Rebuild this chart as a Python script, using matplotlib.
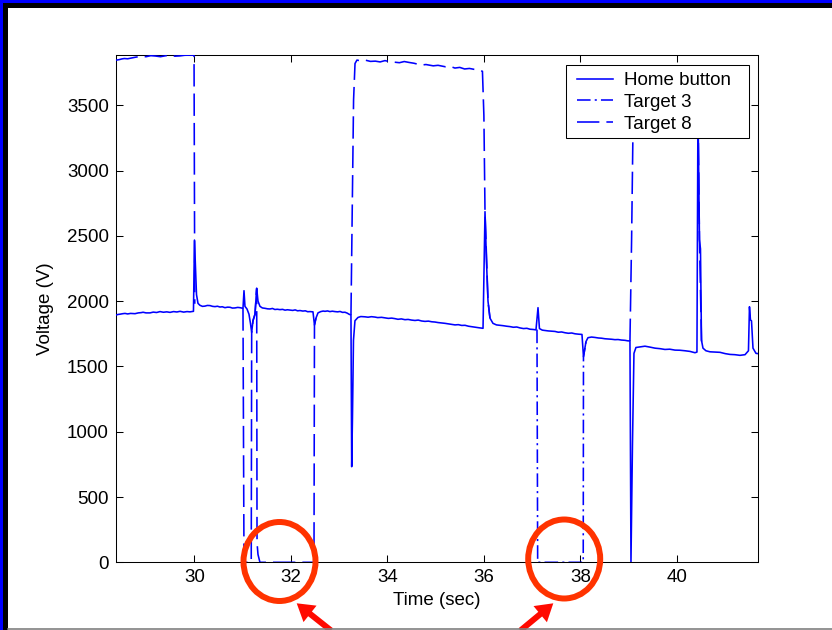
import numpy as np
import matplotlib
matplotlib.use("Agg")
import matplotlib.pyplot as plt
from matplotlib.patches import Rectangle, Ellipse, FancyArrow

plt.rcParams['font.family'] = ['Liberation Sans', 'DejaVu Sans']

NaN = float('nan')

# ---------------- data ----------------
home_time = [28.372, 28.42, 28.461, 28.52, 28.565, 28.62, 28.68, 28.772, 28.84, 28.90,
             28.939, 29.00, 29.083, 29.15, 29.22, 29.290, 29.36, 29.43, 29.498, 29.57,
             29.64, 29.705, 29.78, 29.85, 29.911, 29.983,
             30.004, 30.025, 30.046, 30.077, 30.118, 30.17, 30.222, 30.27, 30.325, 30.38,
             30.429, 30.48, 30.532, 30.58, 30.636, 30.69, 30.740, 30.79, 30.843, 30.90,
             30.947, 31.009,
             31.030, 31.050, 31.092, 31.133, 31.164, 31.189, 31.216, 31.258, 31.293, 31.320,
             31.361, 31.41, 31.465, 31.52, 31.568, 31.62, 31.67, 31.72, 31.775, 31.83,
             31.88, 31.93, 31.983, 32.04, 32.09, 32.14, 32.190, 32.25, 32.30, 32.35,
             32.397, 32.459,
             32.490, 32.521, 32.563, 32.62, 32.67, 32.708, 32.76, 32.81, 32.86, 32.915,
             32.97, 33.02, 33.07, 33.122, 33.17, 33.205, 33.246,
             33.261, 33.277, 33.298, 33.329, 33.391, 33.45, 33.536, 33.60, 33.67, 33.744,
             33.80, 33.88, 33.951, 34.02, 34.09, 34.158, 34.22, 34.29, 34.365, 34.43,
             34.50, 34.573, 34.64, 34.71, 34.780, 34.85, 34.92, 34.987, 35.05, 35.12,
             35.194, 35.26, 35.33, 35.402, 35.47, 35.54, 35.609, 35.68, 35.75, 35.816,
             35.90, 35.982,
             36.023, 36.054, 36.085, 36.126, 36.188, 36.26, 36.333, 36.40, 36.47, 36.541,
             36.61, 36.68, 36.748, 36.82, 36.89, 36.955, 37.02, 37.079,
             37.121, 37.151, 37.21, 37.265, 37.33, 37.40, 37.473, 37.54, 37.61, 37.680,
             37.75, 37.82, 37.887, 37.96, 38.032,
             38.063, 38.115, 38.156, 38.23, 38.301, 38.37, 38.44, 38.508, 38.58, 38.65,
             38.715, 38.78, 38.85, 38.922, 38.98, 39.026,
             39.047, 39.078, 39.109, 39.150, 39.24, 39.337, 39.44, 39.544, 39.65, 39.751,
             39.85, 39.959, 40.06, 40.166, 40.27, 40.373, 40.414,
             40.435, 40.466, 40.487, 40.508, 40.539, 40.60, 40.684, 40.79, 40.892, 41.00,
             41.099, 41.20, 41.306, 41.410, 41.481,
             41.502, 41.523, 41.544, 41.575, 41.637, 41.685]
home_volt = [1893, 1898, 1900, 1904, 1906, 1902, 1906, 1904, 1910, 1912,
             1915, 1910, 1910, 1916, 1913, 1920, 1915, 1918, 1914, 1920,
             1917, 1922, 1916, 1920, 1918, 1922,
             2468, 2250, 2050, 1983, 1968, 1960, 1962, 1967, 1966, 1960,
             1958, 1961, 1955, 1957, 1950, 1954, 1953, 1947, 1948, 1952,
             1950, 1945,
             2080, 1960, 1940, 1900, 1830, 1760, 1850, 1900, 2098, 2000,
             1960, 1948, 1945, 1941, 1940, 1944, 1936, 1938, 1935, 1937,
             1931, 1934, 1932, 1929, 1933, 1926, 1928, 1924, 1926, 1919,
             1920, 1918,
             1817, 1870, 1910, 1920, 1924, 1922, 1925, 1920, 1923, 1920,
             1918, 1921, 1914, 1915, 1908, 1900, 1894,
             732, 1100, 1700, 1850, 1875, 1882, 1880, 1877, 1881, 1878,
             1874, 1876, 1872, 1868, 1870, 1866, 1861, 1864, 1858, 1860,
             1855, 1852, 1855, 1848, 1845, 1847, 1842, 1840, 1836, 1833,
             1830, 1826, 1822, 1818, 1820, 1814, 1815, 1808, 1804, 1800,
             1796, 1792,
             2685, 2300, 2000, 1870, 1830, 1818, 1815, 1812, 1808, 1805,
             1800, 1802, 1795, 1790, 1792, 1785, 1783, 1780,
             1950, 1790, 1778, 1775, 1772, 1770, 1768, 1762, 1764, 1758,
             1754, 1756, 1750, 1747, 1745,
             1574, 1690, 1720, 1725, 1722, 1718, 1716, 1712, 1710, 1708,
             1705, 1706, 1702, 1700, 1696, 1695,
             0, 900, 1600, 1645, 1650, 1655, 1648, 1640, 1636, 1630,
             1632, 1625, 1624, 1620, 1615, 1605, 1610,
             3500, 2470, 2400, 1700, 1640, 1620, 1612, 1610, 1608, 1598,
             1592, 1590, 1585, 1590, 1620,
             1957, 1855, 1850, 1640, 1600, 1598]

target3_time = [37.100, 37.114, 38.058, 38.063, 38.115]
target3_volt = [1782, 0, 0, 1574, 1690]

target8_time = [28.372, 28.420, 28.450, 28.500, 28.550, 28.620, 28.700, 28.780, 28.900, 29.000,
                29.100, 29.200, 29.300, 29.400, 29.500, 29.600, 29.700, 29.800, 29.900, 29.995,
                30.010, NaN,
                31.009, 31.030, 31.180, 31.189, 31.216, 31.258, 31.293, 31.300, 31.320, 31.360,
                32.480, 32.490, 32.521, NaN,
                33.246, 33.300, 33.330, 33.370, 33.450, 33.550, 33.650, 33.750, 33.850, 33.950,
                34.050, 34.150, 34.250, 34.350, 34.450, 34.550, 34.700, 34.800, 34.950, 35.050,
                35.200, 35.300, 35.400, 35.500, 35.600, 35.700, 35.800, 35.900, 35.970, 36.000,
                36.023, 36.085, 36.126, NaN,
                39.026, 39.060, 39.090, 39.120, 39.350, 39.750, 40.150, 40.414, 40.435, 40.466,
                40.508, 40.539]
target8_volt = [3845, 3848, 3850, 3855, 3858, 3856, 3862, 3868, 3875, 3872,
                3880, 3877, 3872, 3879, 3882, 3876, 3878, 3883, 3884, 3884,
                1980, NaN,
                1945, 0, 0, 1760, 1850, 1900, 2098, 150, 60, 0,
                0, 1817, 1870, NaN,
                1894, 3540, 3820, 3846, 3840, 3845, 3836, 3838, 3832, 3842,
                3834, 3830, 3826, 3835, 3828, 3822, 3808, 3812, 3802, 3806,
                3795, 3798, 3785, 3790, 3778, 3782, 3775, 3770, 3760, 3420,
                2685, 2000, 1870, NaN,
                1695, 2470, 3350, 3680, 3700, 3690, 3680, 3670, 3500, 2470,
                1700, 1640]

x_ticks = [30, 32, 34, 36, 38, 40]
y_ticks = [0, 500, 1000, 1500, 2000, 2500, 3000, 3500]
x_range = (28.372, 41.685)
y_range = (0, 3885)

# ---------------- figure ----------------
W, H = 832, 630
fig = plt.figure(figsize=(W / 100, H / 100), dpi=100)
fig.patch.set_facecolor('white')

L, R, T, B = 115.7, 758.3, 55.0, 562.3
ax = fig.add_axes([L / W, 1 - B / H, (R - L) / W, (B - T) / H])

blue = '#0000FF'
lw = 1.15
ax.plot(target3_time, target3_volt, color=blue, lw=lw,
        ls=(0, (8.5, 2.6, 1.3, 2.6)), label='Target 3', zorder=3)
ax.plot(target8_time, target8_volt, color=blue, lw=lw, ls=(0, (14.0, 4.4)),
        label='Target 8', zorder=3)
ax.plot(home_time, home_volt, color=blue, lw=lw, ls='-', label='Home button', zorder=4)

ax.set_xlim(*x_range)
ax.set_ylim(*y_range)
ax.set_xticks(x_ticks)
ax.set_yticks(y_ticks)
ax.tick_params(direction='in', length=5, width=0.75, top=True, right=True,
               labelsize=13.5, pad=5, colors='black')
for s in ax.spines.values():
    s.set_linewidth(0.75)
    s.set_color('black')
ax.set_xlabel('Time (sec)', fontsize=13.5, labelpad=4)
ax.set_ylabel('Voltage (V)', fontsize=13.5, labelpad=9)

# legend frame (drawn separately so the padding can match the original)
lx0, lx1, ly0, ly1 = 566.0, 748.7, 65.0, 137.7
frame = Rectangle((lx0 / W, 1 - ly1 / H), (lx1 - lx0) / W, (ly1 - ly0) / H,
                  transform=fig.transFigure, facecolor='white', edgecolor='black',
                  lw=0.75, zorder=9, clip_on=False)
ax.add_artist(frame)

handles, labels = ax.get_legend_handles_labels()
order = [labels.index('Home button'), labels.index('Target 3'), labels.index('Target 8')]
leg = ax.legend([handles[i] for i in order], [labels[i] for i in order],
                loc='upper left', bbox_to_anchor=(577.0 / W, 1 - 72.0 / H),
                bbox_transform=fig.transFigure, borderaxespad=0, borderpad=0,
                fontsize=13.5, frameon=False, labelspacing=0.25,
                handlelength=1.9, handletextpad=0.62)
leg.set_zorder(10)

# ---------------- overlay decorations (frame, circles, arrows) ----------------
ov = fig.add_axes([0, 0, 1, 1], zorder=20)
ov.set_xlim(0, W)
ov.set_ylim(H, 0)
ov.axis('off')
ov.patch.set_alpha(0)

ov.add_patch(Rectangle((0, 0), W, 3.2, color='#0000FF', lw=0))
ov.add_patch(Rectangle((0, 0), 3.3, H, color='#0000FF', lw=0))
ov.add_patch(Rectangle((3.3, 3.2), W, 5.0, color='black', lw=0))
ov.add_patch(Rectangle((3.3, 3.2), 5.0, H, color='black', lw=0))

circle_color = '#FF3300'
for cx, cy in [(279.5, 561.5), (564.2, 559.0)]:
    ov.add_patch(Ellipse((cx, cy), 72, 79, fill=False, lw=4.3, edgecolor=circle_color))

arrow_color = '#FF0A00'
for (x0, y0), (x1, y1) in [((331.0, 630.5), (296.7, 603.3)),
                           ((520.5, 630.5), (553.3, 603.3))]:
    ov.add_patch(FancyArrow(x0, y0, x1 - x0, y1 - y0, width=6, head_width=21,
                            head_length=17, length_includes_head=True,
                            color=arrow_color, lw=0))

ov.plot([8.3, W], [628.6, 628.6], color='#808080', lw=1.2)

fig.savefig('out.png', dpi=100, facecolor='white')
